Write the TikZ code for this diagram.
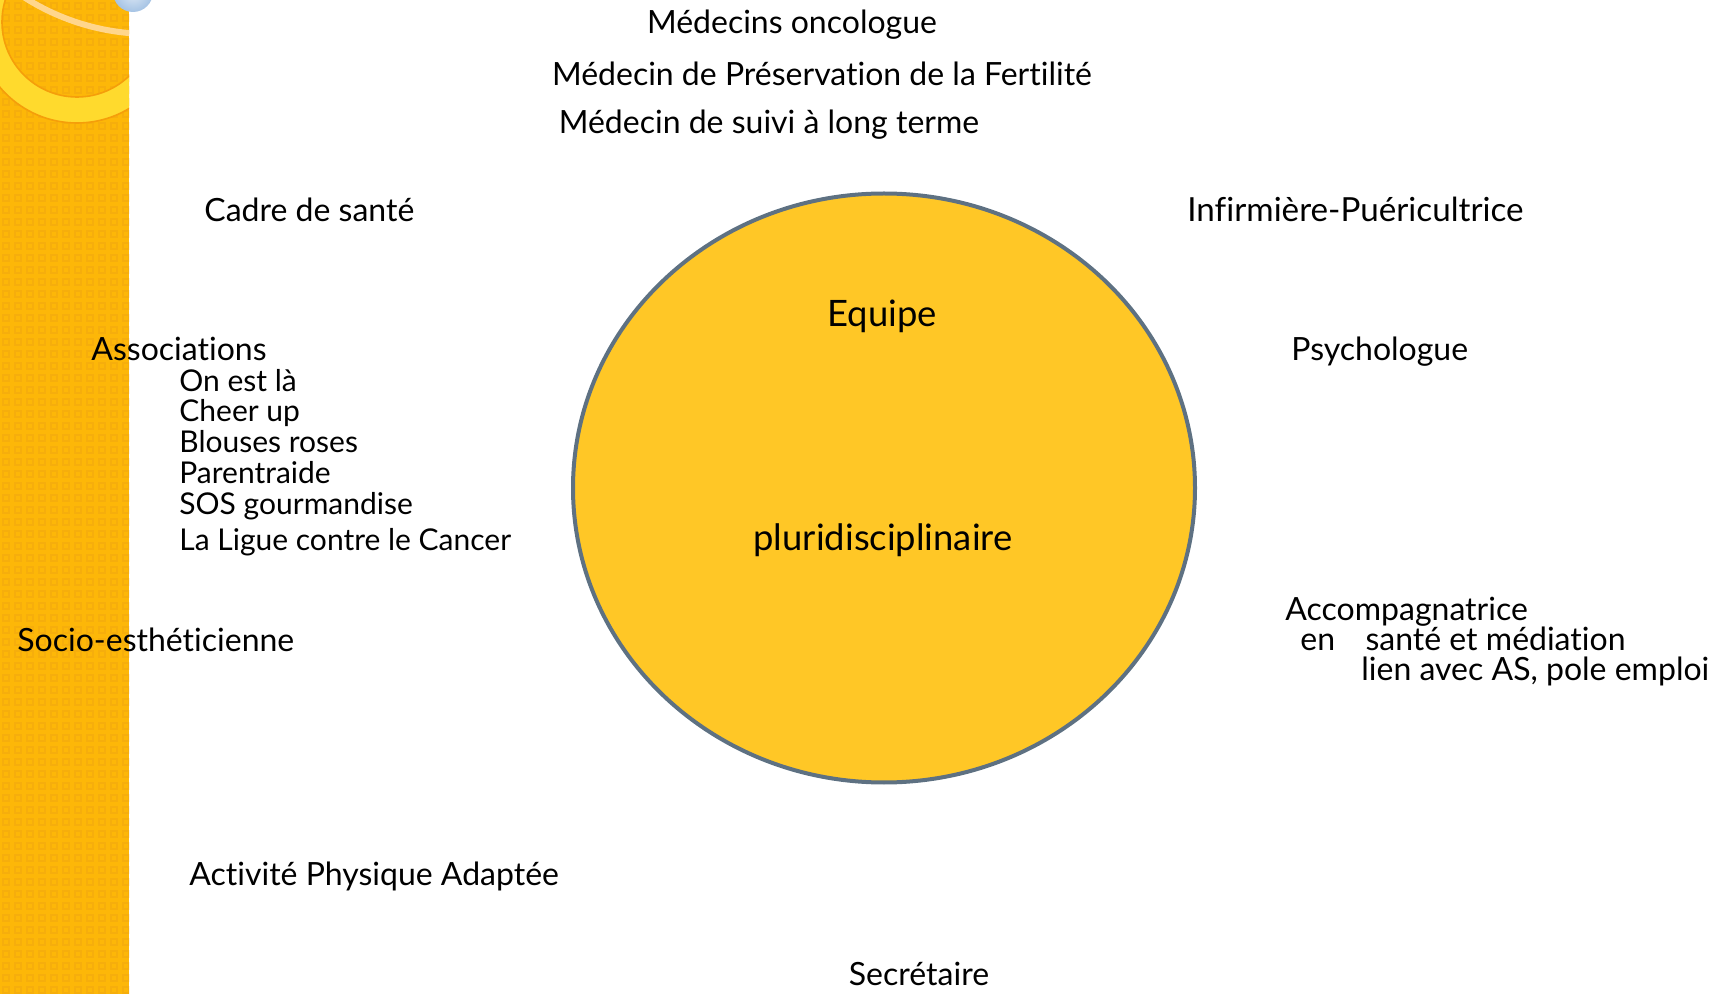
\documentclass[tikz,border=0pt]{standalone}
\usepackage{fontspec}
\setmainfont[Ligatures=NoCommon]{Lato}
\usetikzlibrary{positioning}
\definecolor{strip}{RGB}{253,183,8}
\definecolor{stripdot}{RGB}{246,174,12}
\definecolor{band}{RGB}{255,218,45}
\definecolor{bandedge}{RGB}{245,158,10}
\definecolor{thinarc}{RGB}{255,214,140}
\definecolor{disc}{RGB}{255,199,38}
\definecolor{discline}{RGB}{94,113,130}
\definecolor{bubble}{RGB}{165,195,228}
\tikzset{%
  txt/.style={font=\fontsize{16}{19}\selectfont, inner sep=0pt, anchor=base},% plain text, centred
  item/.style={txt, anchor=base west},% left aligned text
  sub/.style={item, font=\fontsize{15}{18}\selectfont},% association names
  big/.style={txt, font=\fontsize{18.2}{21}\selectfont},% text in the disc
  discstyle/.style={fill=disc, draw=discline, line width=2pt}% the central disc
}

\begin{document}
\begin{tikzpicture}[x=0.5pt, y=-0.5pt]
\useasboundingbox (0,0) rectangle (1720,994);

% side strip
\fill[strip] (0,0) rectangle (129,994);
\begin{scope}
  \clip (0,0) rectangle (129,994);
  \foreach \i in {0,12,...,132}
    \foreach \j in {0,12,...,996}
      \draw[stripdot, line width=0.7pt] (\i+3,\j+3) rectangle (\i+9,\j+9);
  \draw[band, line width=13pt] (77,22) circle (88);
  \draw[bandedge, line width=0.8pt] (77,22) circle (75);
  \draw[bandedge, line width=0.8pt] (77,22) circle (101);
  \draw[thinarc, line width=3pt] (150,-200) circle (234);
\end{scope}
\shade[inner color=bubble!35, outer color=bubble] (133,-8) circle (20);

% disc
\draw[discstyle] (884,488) ellipse (311 and 294.5);
\node[big] (equipe) at (882,327) {Equipe};
\node[big] (pluri) at (883,551) {pluridisciplinaire};

% top
\node[txt] (onco) at (792,34) {Médecins oncologue};
\node[txt] (fert) at (822,86) {Médecin de Préservation de la Fertilité};
\node[txt] (suivi) at (769,134) {Médecin de suivi à long terme};

% left
\node[item] (cadre) at (204,222) {Cadre de santé};
\node[item] (asso) at (91,361) {Associations};
\node[sub] (a1) at (179,392) {On est là};
\node[sub] (a2) at (179,422) {Cheer up};
\node[sub] (a3) at (179,453) {Blouses roses};
\node[sub] (a4) at (179,484) {Parentraide};
\node[sub] (a5) at (179,515) {SOS gourmandise};
\node[sub] (a6) at (179,551) {La Ligue contre le Cancer};
\node[item] (socio) at (17,652) {Socio-esthéticienne};
\node[item] (apa) at (189,885) {Activité Physique Adaptée};

% right
\node[item, font=\fontsize{16.6}{19}\selectfont] (ide) at (1187,222) {Infirmière-Puéricultrice};
\node[item] (psy) at (1291,361) {Psychologue};
\node[item] (acc) at (1285,620) {Accompagnatrice};
\node[item] (acc2) at (1300,650) {en\hspace{0.95em}santé et médiation};
\node[item] (acc3) at (1361,680) {lien avec AS, pole emploi};

% bottom
\node[txt] (secr) at (919,985) {Secrétaire};
\end{tikzpicture}
\end{document}
